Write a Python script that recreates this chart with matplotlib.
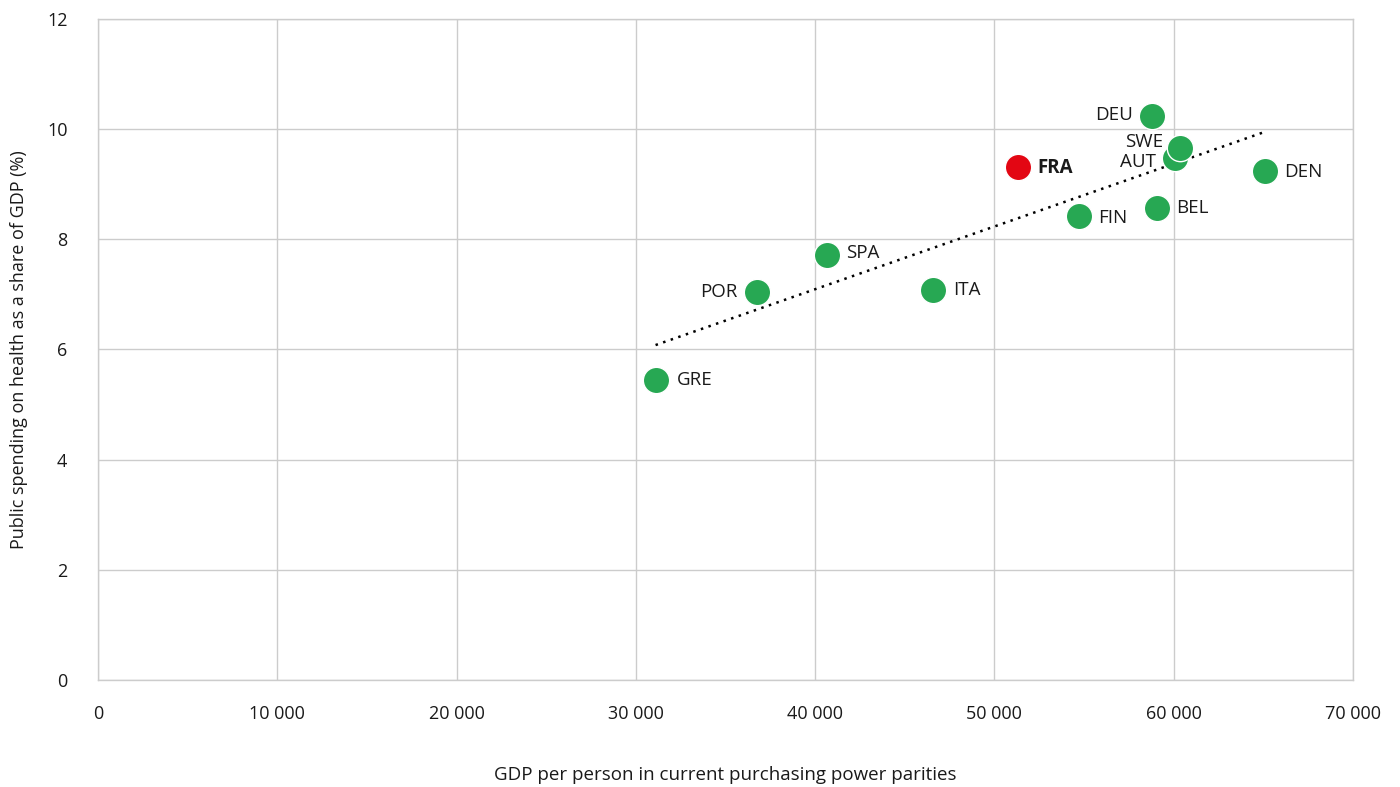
import matplotlib
matplotlib.use("Agg")
import matplotlib.pyplot as plt
from matplotlib.ticker import FuncFormatter
import numpy as np

plt.rcParams['font.family'] = ['Open Sans', 'DejaVu Sans']

countries = ["GRE", "POR", "SPA", "ITA", "FRA", "FIN", "DEU", "BEL", "AUT", "SWE", "DEN"]
gdp = [31100, 36750, 40650, 46600, 51300, 54700, 58800, 59050, 60100, 60350, 65100]
health = [5.45, 7.04, 7.72, 7.08, 9.32, 8.42, 10.24, 8.57, 9.47, 9.66, 9.24]
x_ticks = [0, 10000, 20000, 30000, 40000, 50000, 60000, 70000]
y_ticks = [0, 2, 4, 6, 8, 10, 12]

green = "#27a853"
red = "#e30613"

fig = plt.figure(figsize=(14, 7.87), dpi=100)
ax = fig.add_axes([0.07, 0.136, 0.8964, 0.8399])

# trend line (linear fit)
coef = np.polyfit(gdp, health, 1)
xs = np.array([min(gdp), max(gdp)])
ax.plot(xs, np.polyval(coef, xs), linestyle=(0, (1, 2.2)), color="black", lw=1.8, zorder=3)

for c, xv, yv in zip(countries, gdp, health):
    col = red if c == "FRA" else green
    ax.scatter([xv], [yv], s=360, color=col, edgecolor="white", linewidth=1.0, zorder=4)

offsets = {
    "GRE": (15, 0, "left"), "POR": (-14, 0, "right"), "SPA": (14, 1, "left"),
    "ITA": (14, 0, "left"), "FRA": (14, -1, "left"), "FIN": (14, -1, "left"),
    "DEU": (-14, 1, "right"), "BEL": (14, 0, "left"), "AUT": (-14, -3, "right"),
    "SWE": (-12, 4, "right"), "DEN": (14, -1, "left"),
}
for c, xv, yv in zip(countries, gdp, health):
    dx, dy, ha = offsets[c]
    ax.annotate(c, (xv, yv), xytext=(dx, dy), textcoords="offset points",
                ha=ha, va="center", fontsize=13.5,
                fontweight="bold" if c == "FRA" else "normal", color="#1a1a1a", zorder=5)

ax.set_xlim(0, 70000)
ax.set_ylim(0, 12)
ax.set_xticks(x_ticks)
ax.set_yticks(y_ticks)
ax.xaxis.set_major_formatter(FuncFormatter(lambda v, p: f"{int(v):,}".replace(",", " ")))
ax.grid(True, color="#cccccc", lw=1.0, zorder=0)
ax.set_axisbelow(True)
for s in ["left", "bottom", "top", "right"]:
    ax.spines[s].set_color("#cccccc")
    ax.spines[s].set_linewidth(1.0)
ax.tick_params(length=0, labelsize=13, colors="#1a1a1a")
ax.tick_params(axis="x", pad=18)
ax.tick_params(axis="y", pad=22)

ax.set_xlabel("GDP per person in current purchasing power parities", fontsize=13.5, color="#1a1a1a")
ax.xaxis.set_label_coords(0.5, -(775 - 680) / 661, transform=ax.transAxes)
ax.xaxis.label.set_va("center")
ax.set_ylabel("Public spending on health as a share of GDP (%)", fontsize=13, color="#1a1a1a", labelpad=14)

fig.savefig("out.png", dpi=100)
